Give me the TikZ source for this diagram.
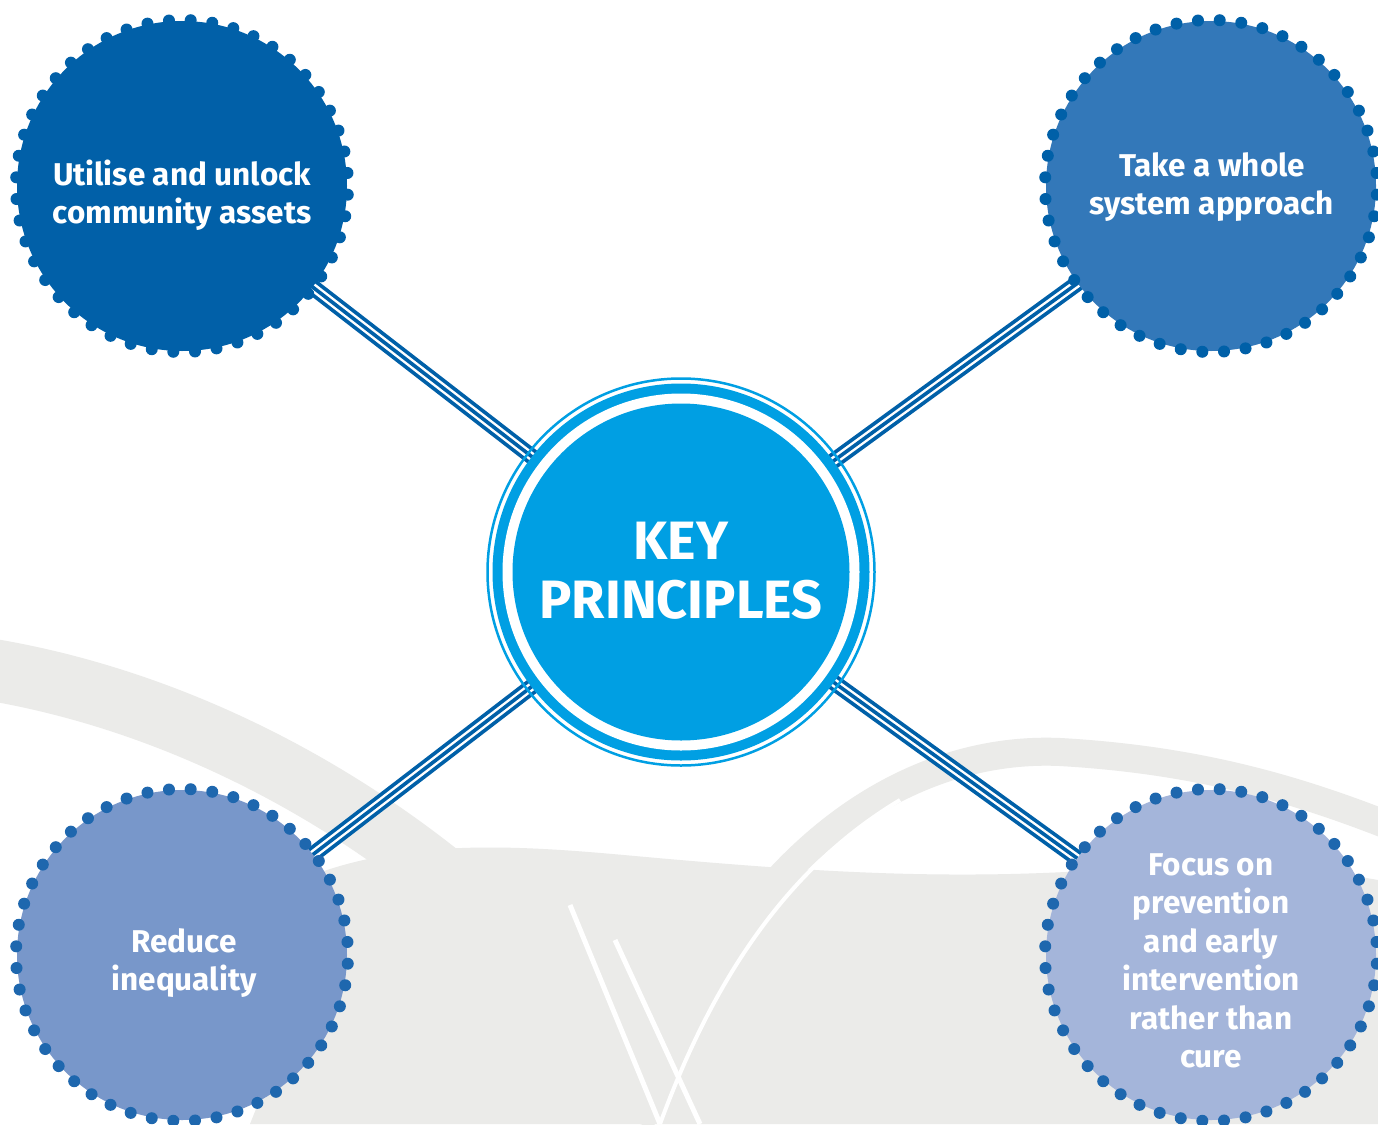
\documentclass[tikz,border=0pt]{standalone}
\usepackage{fontspec}
\setmainfont{Fira Sans}[UprightFont=* Bold]
\definecolor{cyanc}{HTML}{009FE3}
\definecolor{dk}{HTML}{0060A8}
\definecolor{ctl}{HTML}{0160A8}
\definecolor{ctr}{HTML}{3378B9}
\definecolor{cbl}{HTML}{7897CA}
\definecolor{cbr}{HTML}{A4B5DA}
\definecolor{dotl}{HTML}{1E67AE}
\definecolor{bgg}{HTML}{EBEBE9}
\pgfdeclarelayer{bg}
\pgfdeclarelayer{lines}
\pgfsetlayers{bg,lines,main}
\tikzset{
  sat/.style={circle, minimum size=330pt, inner sep=0pt, draw=none},
  conn/.style={line width=16pt, draw=dk, line cap=butt,
     postaction={draw=white, line width=8.5pt},
     postaction={draw=dk, line width=3.6pt}},
  smalltxt/.style={text=white, align=center, font=\fontsize{31.5}{38.5}\selectfont},
  bigtxt/.style={text=white, align=center, font=\fontsize{54}{59}\selectfont},
}
\newcommand{\dotring}[2]{%
  \foreach \a in {0,...,47} \fill[#2] (#1) ++(\a*7.5+3:166) circle (6pt);}
\begin{document}
\begin{tikzpicture}[x=1pt,y=-1pt]
\useasboundingbox (0,0) rectangle (1378,1124);
% background scene
\begin{pgfonlayer}{bg}
  \fill[white] (0,0) rectangle (1378,1124);
  \draw[bgg, line width=62pt] (-40,665) .. controls (150,690) and (330,780) .. (470,900);
  \fill[bgg] (300,880) .. controls (420,830) and (560,850) .. (680,860)
     .. controls (820,872) and (950,880) .. (1100,870)
     .. controls (1250,860) and (1320,870) .. (1378,880)
     -- (1378,1124) -- (250,1124) .. controls (300,1000) .. (300,880) -- cycle;
  \draw[bgg, line width=28pt] (640,1124) .. controls (730,860) and (900,745) .. (1060,752)
     .. controls (1200,760) and (1300,790) .. (1400,830);
  \draw[white, line width=5pt] (570,905) -- (660,1124);
  \draw[white, line width=5pt] (615,940) -- (700,1124);
  \draw[white, line width=4pt] (660,1124) .. controls (720,960) and (800,860) .. (900,800);
\end{pgfonlayer}
% circles
\node[sat, fill=ctl] (tl) at (182,186) {};
\node[sat, fill=ctr] (tr) at (1211,186) {};
\node[sat, fill=cbl] (bl) at (182,955) {};
\node[sat, fill=cbr] (br) at (1211,955) {};
\dotring{tl}{ctl}
\dotring{tr}{dk}
\dotring{bl}{dotl}
\dotring{br}{dotl}
% center
\node[circle, minimum size=377pt, inner sep=0pt, fill=cyanc] (ctr) at (681,572) {};
\fill[white] (ctr.center) circle (178.5);
\fill[cyanc] (ctr.center) circle (168.5);
\draw[cyanc, line width=2.5pt] (ctr.center) circle (193.5);
% connectors
\begin{pgfonlayer}{lines}
  \draw[conn] (tl.center) -- (ctr.center);
  \draw[conn] (tr.center) -- (ctr.center);
  \draw[conn] (bl.center) -- (ctr.center);
  \draw[conn] (br.center) -- (ctr.center);
\end{pgfonlayer}
% texts
\node[smalltxt] (tlt) at (182,195) {Utilise and unlock\\community assets};
\node[smalltxt] (trt) at (1212,187) {Take a whole\\system approach};
\node[smalltxt] (blt) at (184,963) {Reduce\\inequality};
\node[smalltxt] (brt) at (1211,961) {Focus on\\prevention\\and early\\intervention\\rather than\\cure};
\node[bigtxt] (ctt) at (681,571) {KEY\\PRINCIPLES};
\end{tikzpicture}
\end{document}
